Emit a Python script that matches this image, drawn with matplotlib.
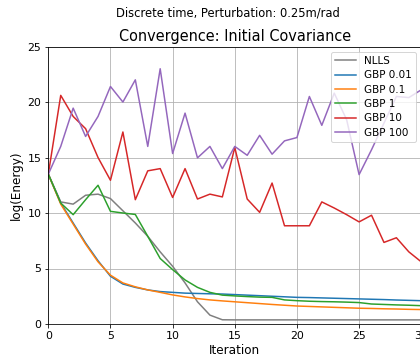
import matplotlib
matplotlib.use("Agg")
import matplotlib.pyplot as plt

# Energy per iteration (log scale values)
iterations = list(range(31))

nlls = [13.5, 11.0, 10.8, 11.6, 11.7, 11.3, 10.2, 9.1, 7.9, 6.5, 5.2, 3.7, 2.0, 0.8, 0.38,
        0.37, 0.37, 0.37, 0.37, 0.37, 0.37, 0.37, 0.37, 0.37, 0.37, 0.37, 0.37, 0.37, 0.37, 0.37, 0.37]
gbp_001 = [13.5, 10.9, 9.1, 7.3, 5.7, 4.3, 3.6, 3.3, 3.07, 2.92, 2.85, 2.78, 2.75, 2.72, 2.7,
           2.65, 2.6, 2.55, 2.5, 2.45, 2.4, 2.38, 2.35, 2.32, 2.29, 2.26, 2.23, 2.2, 2.16, 2.13, 2.1]
gbp_01 = [13.5, 10.8, 9.0, 7.2, 5.6, 4.4, 3.7, 3.35, 3.07, 2.85, 2.62, 2.44, 2.29, 2.17, 2.08,
          2.0, 1.92, 1.84, 1.76, 1.69, 1.62, 1.58, 1.54, 1.5, 1.46, 1.42, 1.4, 1.37, 1.35, 1.32, 1.3]
gbp_1 = [13.5, 10.9, 9.85, 11.2, 12.5, 10.15, 10.0, 9.87, 7.9, 5.9, 4.9, 3.97, 3.3, 2.85, 2.6,
         2.53, 2.47, 2.42, 2.4, 2.17, 2.1, 2.05, 2.02, 2.0, 1.97, 1.93, 1.8, 1.76, 1.72, 1.69, 1.65]
gbp_10 = [13.5, 20.6, 18.7, 17.6, 15.0, 12.95, 17.3, 11.2, 13.8, 14.0, 11.4, 14.0, 11.26, 11.7, 11.45,
          15.9, 11.26, 10.06, 12.7, 8.85, 8.85, 8.85, 11.0, 10.45, 9.85, 9.2, 9.8, 7.35, 7.77, 6.5, 5.6]
gbp_100 = [13.5, 16.0, 19.45, 16.9, 18.7, 21.4, 20.0, 22.0, 16.0, 23.0, 15.36, 19.0, 14.97, 16.0, 14.0,
           16.0, 15.2, 17.0, 15.3, 16.5, 16.8, 20.5, 17.9, 20.8, 18.4, 13.46, 15.7, 18.1, 20.5, 20.4, 21.1]

fig = plt.figure(figsize=(420 / 72, 358 / 72), dpi=72)
ax = fig.add_axes([0.115, 0.095, 0.888, 0.775])

ax.plot(iterations, nlls, color="tab:gray", linewidth=1.5, label="NLLS")
ax.plot(iterations, gbp_001, color="tab:blue", linewidth=1.5, label="GBP 0.01")
ax.plot(iterations, gbp_01, color="tab:orange", linewidth=1.5, label="GBP 0.1")
ax.plot(iterations, gbp_1, color="tab:green", linewidth=1.5, label="GBP 1")
ax.plot(iterations, gbp_10, color="tab:red", linewidth=1.5, label="GBP 10")
ax.plot(iterations, gbp_100, color="tab:purple", linewidth=1.5, label="GBP 100")

ax.set_xlim(0, 30)
ax.set_ylim(0, 25)
ax.set_xticks([0, 5, 10, 15, 20, 25, 30])
ax.set_yticks([0, 5, 10, 15, 20, 25])
ax.tick_params(labelsize=11)
ax.grid(True)
ax.set_xlabel("Iteration", fontsize=12, labelpad=3)
ax.set_ylabel("log(Energy)", fontsize=12)
ax.set_title("Convergence: Initial Covariance", fontsize=14.5, pad=6)
fig.suptitle("Discrete time, Perturbation: 0.25m/rad", x=0.543, y=0.982, fontsize=11.5)
ax.legend(loc="upper right", fontsize=10.4, labelspacing=0.42)

fig.savefig("out.png", dpi=72)
